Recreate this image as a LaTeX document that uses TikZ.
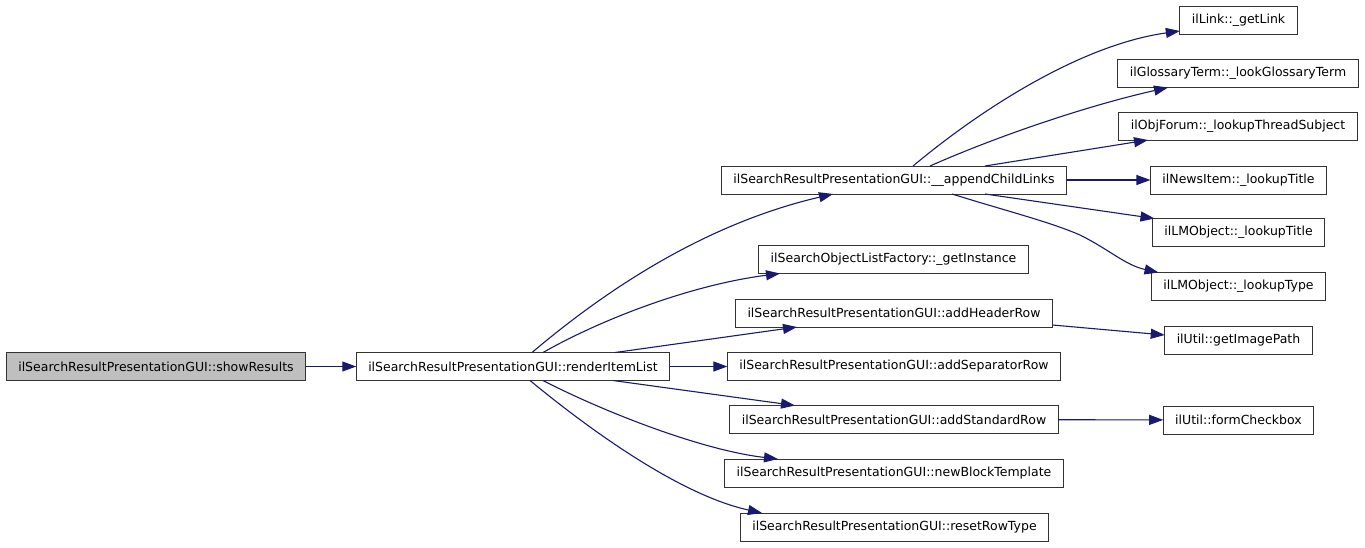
\documentclass[tikz,border=0pt]{standalone}
\usepackage{fontspec}
\setmainfont{DejaVu Sans}
\usetikzlibrary{arrows.meta}

\definecolor{edgeblue}{HTML}{191970}

\tikzset{
  fn/.style={draw=black!80, line width=1pt, fill=white, minimum height=28pt,
    inner xsep=12pt, inner ysep=0pt, outer sep=0pt,
    font=\fontsize{12.5}{14}\selectfont},
  current/.style={fn, fill=black!25},
  call/.style={draw=edgeblue, line width=1.1pt, -{Triangle[length=14pt,width=10pt]}}
}

\begin{document}
\begin{tikzpicture}[x=1pt, y=-1pt]
  \useasboundingbox (0,0) rectangle (1365,547);

  % caller and first level
  \node[current] (show)   at (156,366.5) {ilSearchResultPresentationGUI::showResults};
  \node[fn]      (render) at (513,366.5) {ilSearchResultPresentationGUI::renderItemList};

  % second level
  \node[fn] (append) at (894,180)   {ilSearchResultPresentationGUI::\_\_appendChildLinks};
  \node[fn] (inst)   at (893.5,259.5) {ilSearchObjectListFactory::\_getInstance};
  \node[fn] (header) at (894,313)   {ilSearchResultPresentationGUI::addHeaderRow};
  \node[fn] (sep)    at (894,366.5) {ilSearchResultPresentationGUI::addSeparatorRow};
  \node[fn] (std)    at (894,419.5) {ilSearchResultPresentationGUI::addStandardRow};
  \node[fn] (block)  at (894,473)   {ilSearchResultPresentationGUI::newBlockTemplate};
  \node[fn] (reset)  at (894.5,527) {ilSearchResultPresentationGUI::resetRowType};

  % third level
  \node[fn] (getlink)  at (1238.5,20)    {ilLink::\_getLink};
  \node[fn] (gloss)    at (1238,73.5)    {ilGlossaryTerm::\_lookGlossaryTerm};
  \node[fn] (forum)    at (1238,126)     {ilObjForum::\_lookupThreadSubject};
  \node[fn] (news)     at (1238.5,180)   {ilNewsItem::\_lookupTitle};
  \node[fn] (lmtitle)  at (1238.5,232.5) {ilLMObject::\_lookupTitle};
  \node[fn] (lmtype)   at (1238.5,286.5) {ilLMObject::\_lookupType};
  \node[fn] (imgpath)  at (1238.5,340)   {ilUtil::getImagePath};
  \node[fn] (checkbox) at (1238.5,420)   {ilUtil::formCheckbox};

  % calls
  \draw[call] (show) -- (render);

  \draw[call] ([xshift=19pt]render.north) .. controls (600,295) and (700,225) .. ([xshift=-61pt]append.south);
  \draw[call] ([xshift=30pt]render.north) .. controls (600,320) and (690,285) .. ([xshift=-113.5pt]inst.south);
  \draw[call] ([xshift=102pt]render.north) -- ([xshift=-97pt]header.south);
  \draw[call] (render) -- (sep);
  \draw[call] ([xshift=100pt]render.south) -- ([xshift=-99pt]std.north);
  \draw[call] ([xshift=30pt]render.south) .. controls (600,410) and (700,450) .. ([xshift=-116pt]block.north);
  \draw[call] ([xshift=17pt]render.south) .. controls (590,430) and (680,495) .. ([xshift=-132.5pt]reset.north);

  \draw[call] ([xshift=19pt]append.north) .. controls (980,110) and (1080,45) .. ([yshift=3pt]getlink.south west);
  \draw[call] ([xshift=36pt]append.north) .. controls (1000,135) and (1090,105) .. ([xshift=-70pt]gloss.south);
  \draw[call] ([xshift=91pt]append.north) -- ([xshift=-90pt]forum.south);
  \draw[call] (append) -- (news);
  \draw[call] ([xshift=91pt]append.south) -- ([xshift=-84pt]lmtitle.north);
  \draw[call] ([xshift=58pt]append.south) .. controls (1010,212) and (1050,222) .. (1080,235)
                                          .. controls (1110,250) and (1125,265) .. ([xshift=-80pt]lmtype.north);

  \draw[call] ([yshift=2pt]header.south east) -- ([yshift=5pt]imgpath.west);
  \draw[call] (std) -- (checkbox);
\end{tikzpicture}
\end{document}
